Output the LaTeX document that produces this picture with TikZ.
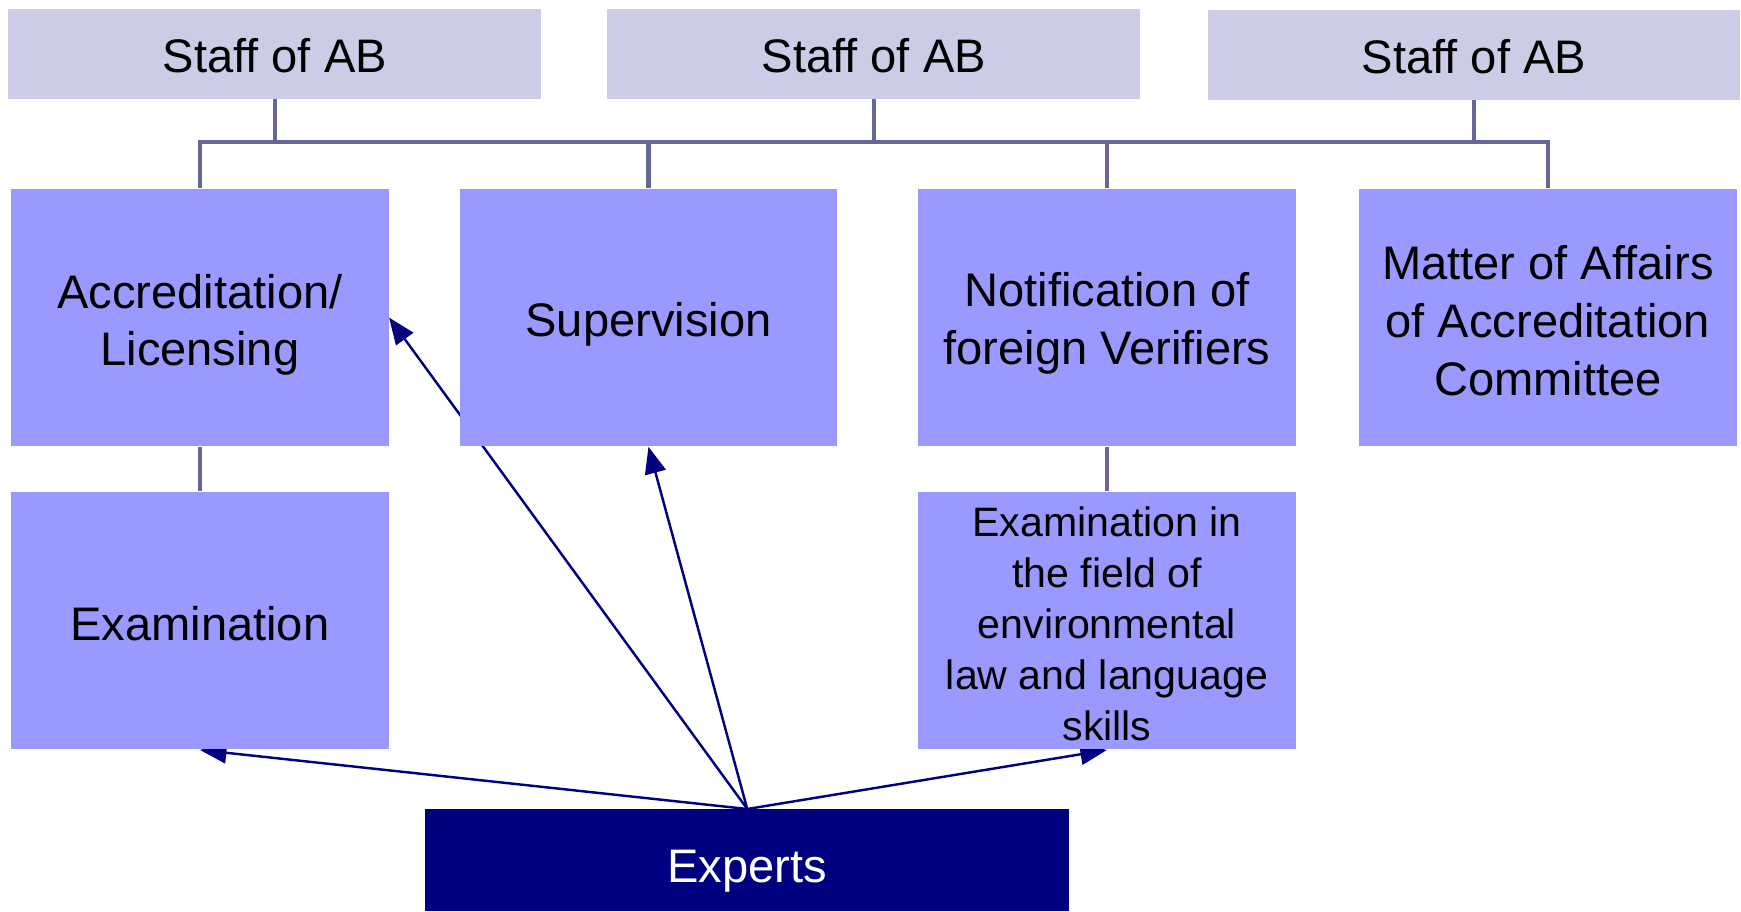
\documentclass[tikz,border=0pt]{standalone}
\usepackage{fontspec}
\setmainfont{Liberation Sans}
\usetikzlibrary{arrows.meta}
\pgfdeclarelayer{background}
\pgfsetlayers{background,main}
\definecolor{staffc}{RGB}{204,204,230}
\definecolor{taskc}{RGB}{153,153,255}
\definecolor{navyc}{RGB}{0,0,128}
\definecolor{connc}{RGB}{102,102,153}
\newcommand{\lowtext}[2]{\raisebox{-#1}[\height][\depth]{\begin{tabular}{@{}c@{}}#2\end{tabular}}}
\tikzset{
  staffbox/.style={fill=staffc, draw=none, minimum width=240pt, minimum height=40.5pt, inner sep=0pt, font=\fontsize{21.2}{26}\selectfont},
  taskbox/.style={fill=taskc, draw=none, minimum width=170pt, minimum height=116pt, inner sep=0pt, align=center, font=\fontsize{21.2}{26}\selectfont},
  smallbox/.style={taskbox, font=\fontsize{18.5}{23}\selectfont},
  expbox/.style={fill=navyc, draw=none, text=white, minimum width=290pt, minimum height=45.75pt, inner sep=0pt, font=\fontsize{21.2}{26}\selectfont},
  conn/.style={draw=connc, line width=2pt},
  arr/.style={draw=navyc, line width=1.1pt, -{Triangle[length=12pt,width=9.5pt]}}
}
\begin{document}
\begin{tikzpicture}[x=0.5pt,y=-0.5pt]
\useasboundingbox (0,0) rectangle (1568,820.5);
\node[staffbox] (s1) at (247.5,48.5) {\lowtext{3pt}{Staff of AB}};
\node[staffbox] (s2) at (787,48.5) {\lowtext{3pt}{Staff of AB}};
\node[staffbox] (s3) at (1327.5,49.5) {\lowtext{3pt}{Staff of AB}};
\node[taskbox] (acc) at (180,286) {\lowtext{3.5pt}{Accreditation/\\Licensing}};
\node[taskbox] (sup) at (584,286) {\lowtext{3.5pt}{Supervision}};
\node[taskbox] (notif) at (997,286) {\lowtext{3pt}{Notification of\\foreign Verifiers}};
\node[taskbox] (matter) at (1394,286) {\lowtext{3.75pt}{Matter of Affairs\\of Accreditation\\Committee}};
\node[taskbox] (exam) at (180,559) {\lowtext{3.5pt}{Examination}};
\node[smallbox] (examin) at (997,559) {\lowtext{3.5pt}{Examination in\\the field of\\environmental\\law and language\\skills}};
\node[expbox] (exp) at (673,774.75) {\lowtext{5pt}{Experts}};
\coordinate (bus) at (0,128);
\begin{pgfonlayer}{background}
\draw[conn] (acc.north) -- (acc.north |- bus) -- (matter.north |- bus) -- (matter.north);
\draw[conn] (sup.north) -- (sup.north |- bus);
\draw[conn] (notif.north) -- (notif.north |- bus);
\draw[conn] (s1.south) -- (s1.south |- bus);
\draw[conn] (s2.south) -- (s2.south |- bus);
\draw[conn] (s3.south) -- (s3.south |- bus);
\draw[conn] (acc.south) -- (exam.north);
\draw[conn] (notif.south) -- (examin.north);
\draw[arr] (exp.north) -- (exam.south);
\draw[arr] (exp.north) -- (acc.east);
\draw[arr] (exp.north) -- (sup.south);
\draw[arr] (exp.north) -- (examin.south);
\end{pgfonlayer}
\end{tikzpicture}
\end{document}
